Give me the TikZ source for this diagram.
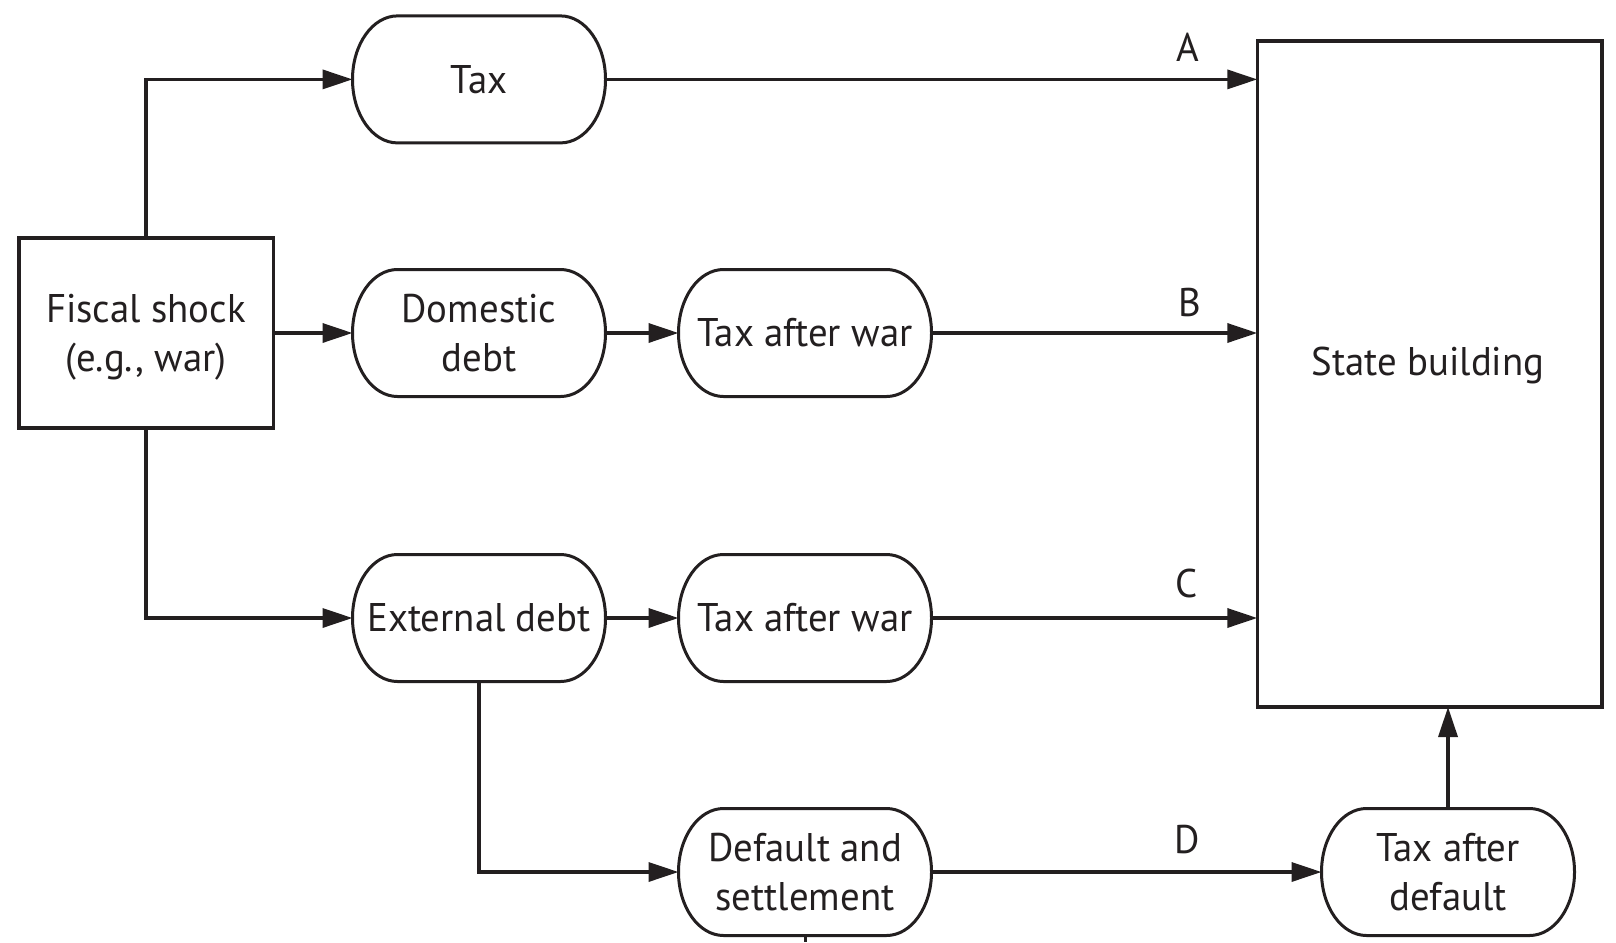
\documentclass[tikz,border=0pt]{standalone}
\usepackage{fontspec}
\setmainfont[FakeStretch=0.97]{PT Sans}
\usetikzlibrary{arrows.meta,calc}
\definecolor{ink}{RGB}{35,31,32}
\tikzset{
 base/.style={font=\fontsize{40}{49}\selectfont, align=center, text=ink},
 pilltxt/.style={base, rectangle, draw=none, minimum width=253pt, minimum height=127pt, inner sep=0pt, outer sep=0pt},
 pillline/.style={draw=ink, line width=3pt},
 sqbox/.style={base, rectangle, draw=ink, line width=3.5pt, outer sep=0pt, inner sep=0pt},
 arr/.style={draw=ink, line width=3.5pt, -{Triangle[length=30pt,width=19pt]}},
 plainline/.style={draw=ink, line width=3pt},
 lbl/.style={base, inner sep=0pt},
}
\newcommand\pill[3]{%
 \node[pilltxt] (#1) at (#2) {#3};
 \draw[pillline] (#1.west) arc[start angle=180,end angle=90,x radius=45pt,y radius=63.5pt]
   -- ($(#1.north east)+(-45pt,0pt)$) arc[start angle=90,end angle=0,x radius=45pt,y radius=63.5pt]
   arc[start angle=0,end angle=-90,x radius=45pt,y radius=63.5pt]
   -- ($(#1.south west)+(45pt,0pt)$) arc[start angle=-90,end angle=-180,x radius=45pt,y radius=63.5pt] -- cycle;}
\begin{document}
\begin{tikzpicture}[x=1pt,y=-1pt]
\useasboundingbox[fill=white] (0,0) rectangle (1616,942);
\node[sqbox, minimum width=254.5pt, minimum height=190pt] (fs) at (146,333) {};
\node[lbl] (fst) at (146,337) {Fiscal shock\\(e.g., war)};
\node[sqbox, minimum width=344.5pt, minimum height=666pt] (sb) at (1429.5,374) {};
\node[lbl] (sbt) at (1428,365) {State building};
\pill{tax}{479,79.4}{Tax}
\pill{dd}{479,333}{Domestic\\debt}
\pill{twb}{805,333}{Tax after war}
\pill{ed}{479,618}{External debt}
\pill{twc}{805,618}{Tax after war}
\pill{def}{805,872}{Default and\\settlement}
\pill{tad}{1448,872}{Tax after\\default}
\node[lbl] (lA) at (1188,47) {A};
\node[lbl] (lB) at (1190,302) {B};
\node[lbl] (lC) at (1187,583) {C};
\node[lbl] (lD) at (1187,840) {D};
\coordinate (stubend) at (805,942);
\draw[arr] (fs.north) |- (tax.west);
\draw[arr] (fs.east) -- (dd.west);
\draw[arr] (fs.south) |- (ed.west);
\draw[arr] (dd.east) -- (twb.west);
\draw[arr] (ed.east) -- (twc.west);
\draw[arr] (ed.south) |- (def.west);
\draw[arr] (tax.east) -- (tax.east -| sb.west);
\draw[arr] (twb.east) -- (twb.east -| sb.west);
\draw[arr] (twc.east) -- (twc.east -| sb.west);
\draw[arr] (def.east) -- (tad.west);
\draw[arr] (tad.north) -- (tad.north |- sb.south);
\draw[plainline] (def.south) -- (stubend);
\end{tikzpicture}
\end{document}
